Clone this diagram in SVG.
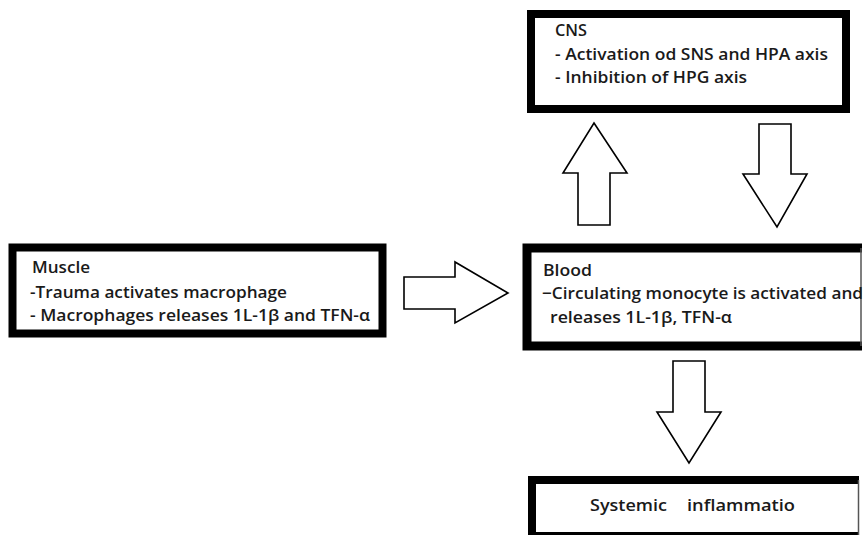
<svg xmlns="http://www.w3.org/2000/svg" width="864" height="535" viewBox="0 0 864 535">
<style>
.t{font-family:"Open Sans","Noto Sans",sans-serif;font-weight:600;font-size:17px;fill:#1a1a1a}
.box{fill:#fff;stroke:#000;stroke-width:8}
.thin{stroke:#555;stroke-width:1.5}
.arr{fill:#fff;stroke:#000;stroke-width:1.6;stroke-linejoin:miter}
</style>
<rect width="864" height="535" fill="#fff"/>
<g id="cns">
<rect class="box" x="531" y="14" width="315" height="95"/>
<text class="t" x="555" y="36" textLength="32" lengthAdjust="spacingAndGlyphs">CNS</text>
<text class="t" x="555" y="60" textLength="273" lengthAdjust="spacingAndGlyphs">- Activation od SNS and HPA axis</text>
<text class="t" x="555" y="83" textLength="192" lengthAdjust="spacingAndGlyphs">- Inhibition of HPG axis</text>
</g>
<g id="muscle">
<rect class="box" x="12.5" y="247.5" width="370" height="86" stroke-width="9"/>
<text class="t" x="32" y="273" textLength="58" lengthAdjust="spacingAndGlyphs">Muscle</text>
<text class="t" x="30" y="298" textLength="257" lengthAdjust="spacingAndGlyphs">-Trauma activates macrophage</text>
<text class="t" x="30" y="321" textLength="340" lengthAdjust="spacingAndGlyphs">- Macrophages releases 1L-1β and TFN-α</text>
</g>
<g id="blood">
<rect x="522" y="244" width="340" height="106" fill="#fff"/>
<path d="M862 248 H527 V346 H862" fill="none" stroke="#000" stroke-width="9"/>
<line class="thin" x1="861" y1="248" x2="861" y2="346"/>
<text class="t" x="543" y="276" textLength="49" lengthAdjust="spacingAndGlyphs">Blood</text>
<text class="t" x="542" y="299" textLength="321" lengthAdjust="spacingAndGlyphs">−Circulating monocyte is activated and</text>
<text class="t" x="550" y="323" textLength="182" lengthAdjust="spacingAndGlyphs">releases 1L-1β, TFN-α</text>
</g>
<g id="systemic">
<rect x="528" y="476" width="332" height="64" fill="#fff"/>
<path d="M859 480 H532 V536 H859" fill="none" stroke="#000" stroke-width="8"/>
<line class="thin" x1="858.5" y1="480" x2="858.5" y2="535"/>
<text class="t" x="590" y="511" textLength="77" lengthAdjust="spacingAndGlyphs">Systemic</text>
<text class="t" x="687" y="511" textLength="108" lengthAdjust="spacingAndGlyphs">inflammatio</text>
</g>
<g id="connectors">
<polygon class="arr" points="404,277 455,277 455,262 508,293 455,323 455,309 404,309"/>
<polygon class="arr" points="594,123 627,173 610,173 610,225 578,225 578,173 563,173"/>
<polygon class="arr" points="759,124 791,124 791,174 807,174 777,227 743,174 759,174"/>
<polygon class="arr" points="673,361 705,361 705,412 721,412 689,463 657,412 673,412"/>
</g>
</svg>
